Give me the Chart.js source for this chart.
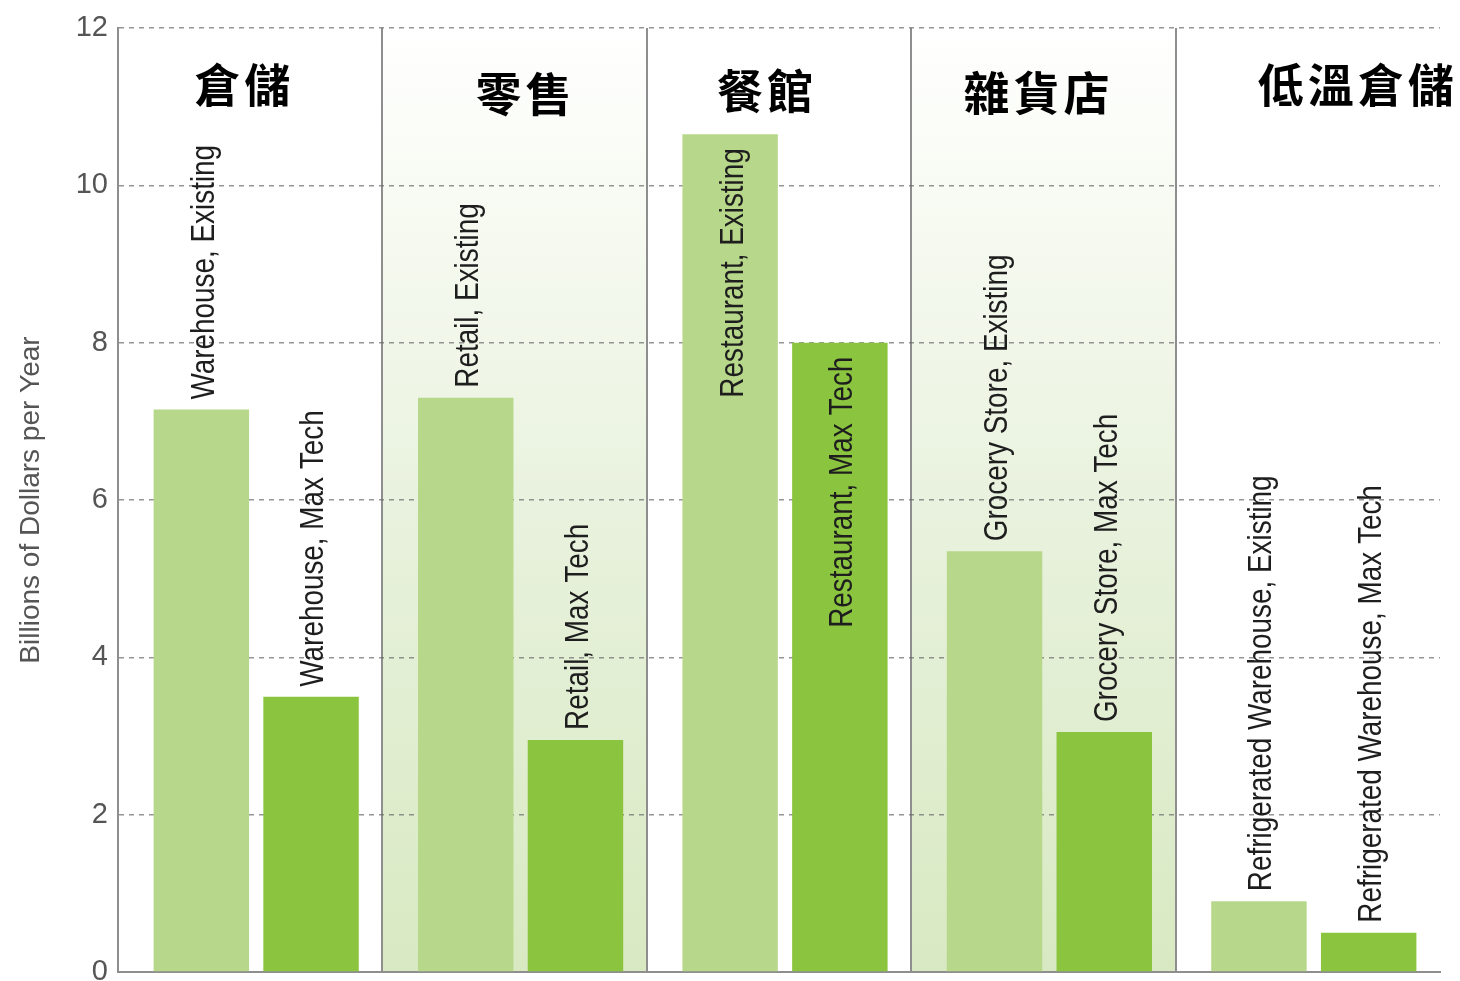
<!DOCTYPE html>
<html>
<head>
<meta charset="utf-8">
<script src="https://cdn.jsdelivr.net/npm/chart.js@4"></script>
<style>
  html, body { margin: 0; padding: 0; background: #fff; }
  #wrap { width: 1460px; height: 981px; }
</style>
</head>
<body>
<div id="wrap"><canvas id="chart"></canvas></div>
<script>
// building types, one panel each
const categories = ['倉儲', '零售', '餐館', '雜貨店', '低溫倉儲'];
const existingLabels = ['Warehouse, Existing', 'Retail, Existing', 'Restaurant, Existing', 'Grocery Store, Existing', 'Refrigerated Warehouse, Existing'];
const maxTechLabels = ['Warehouse, Max Tech', 'Retail, Max Tech', 'Restaurant, Max Tech', 'Grocery Store, Max Tech', 'Refrigerated Warehouse, Max Tech'];
// billions of dollars per year
const existingValues = [7.15, 7.3, 10.65, 5.35, 0.9];
const maxTechValues = [3.5, 2.95, 8.0, 3.05, 0.5];
const yMin = 0, yMax = 12, yStep = 2;

// styling
const shadedPanels = [1, 3];
const titleShift = [-8, 9, -14, -7, 48];
const titleLift = [-5, 4, 1, 3, -5];
const titlePitch = 50;
const barShift = 6;
const sans = '"Liberation Sans", Arial, sans-serif';

const panelShading = {
  id: 'panelShading',
  beforeDraw(chart) {
    const { ctx, chartArea, scales: { x } } = chart;
    const half = (x.getPixelForValue(1) - x.getPixelForValue(0)) / 2;
    ctx.save();
    shadedPanels.forEach(i => {
      const cx = x.getPixelForValue(i);
      const g = ctx.createLinearGradient(0, chartArea.bottom, 0, chartArea.top);
      g.addColorStop(0, '#d8e9c2');
      g.addColorStop(0.5, '#e9f2de');
      g.addColorStop(0.9, '#fbfdf8');
      g.addColorStop(1, '#ffffff');
      ctx.fillStyle = g;
      ctx.fillRect(cx - half, chartArea.top, half * 2, chartArea.bottom - chartArea.top);
    });
    ctx.restore();
  }
};

// nudge each bar pair a little right of its panel centre
const barNudge = {
  id: 'barNudge',
  beforeDatasetsDraw(chart) {
    chart.ctx.save();
    chart.ctx.translate(barShift, 0);
  },
  afterDatasetsDraw(chart) {
    chart.ctx.restore();
  }
};

const barLabels = {
  id: 'barLabels',
  afterDatasetsDraw(chart) {
    const { ctx, chartArea } = chart;
    const texts = [existingLabels, maxTechLabels];
    const squeeze = 0.82;
    ctx.save();
    ctx.font = '34px ' + sans;
    ctx.fillStyle = '#1e1e1e';
    ctx.textBaseline = 'middle';
    chart.data.datasets.forEach((ds, d) => {
      chart.getDatasetMeta(d).data.forEach((bar, i) => {
        const text = texts[d][i];
        const w = ctx.measureText(text).width * squeeze;
        const inside = bar.y - 10 - w < chartArea.top + 100;
        ctx.save();
        ctx.translate(bar.x + barShift + 3, inside ? bar.y + 14 : bar.y - 10);
        ctx.rotate(-Math.PI / 2);
        ctx.scale(squeeze, 1);
        ctx.textAlign = inside ? 'right' : 'left';
        ctx.fillText(text, 0, 0);
        ctx.restore();
      });
    });
    ctx.restore();
  }
};

const panelTitles = {
  id: 'panelTitles',
  afterDraw(chart) {
    const { ctx, chartArea, scales: { x } } = chart;
    ctx.save();
    ctx.font = 'bold 46px "Noto Sans CJK TC", sans-serif';
    ctx.fillStyle = '#000';
    ctx.textAlign = 'center';
    ctx.textBaseline = 'middle';
    categories.forEach((c, i) => {
      const chars = c.split('');
      const cx = x.getPixelForValue(i) + titleShift[i];
      const cy = chartArea.top + 62 + titleLift[i];
      chars.forEach((ch, k) => {
        ctx.fillText(ch, cx + (k - (chars.length - 1) / 2) * titlePitch, cy);
      });
    });
    ctx.restore();
  }
};

new Chart(document.getElementById('chart'), {
  type: 'bar',
  data: {
    labels: categories,
    datasets: [
      { label: 'Existing', data: existingValues, backgroundColor: '#b7d88a', borderWidth: 0 },
      { label: 'Max Tech', data: maxTechValues, backgroundColor: '#8bc53f', borderWidth: 0 }
    ]
  },
  options: {
    responsive: true,
    maintainAspectRatio: false,
    animation: false,
    categoryPercentage: 0.83,
    barPercentage: 0.87,
    layout: { padding: { top: 28, right: 20, bottom: 9, left: 0 } },
    plugins: {
      legend: { display: false },
      tooltip: { enabled: false }
    },
    scales: {
      x: {
        afterFit(scale) { scale.height = 0; },
        ticks: { display: false },
        grid: {
          offset: true,
          drawTicks: false,
          lineWidth: 2,
          color: c => (c.type === 'tick' ? '#8e8e8e' : 'rgba(0,0,0,0)')
        },
        border: { color: '#8e8e8e', width: 2 }
      },
      y: {
        min: yMin,
        max: yMax,
        z: 1,
        afterFit(scale) {
          scale.width = 118;
          scale.paddingTop = 0;
          scale.paddingBottom = 0;
        },
        ticks: {
          stepSize: yStep,
          padding: 10,
          color: '#555',
          font: { family: sans, size: 29 }
        },
        grid: {
          drawTicks: false,
          lineWidth: 1.5,
          color: c => (c.tick && c.tick.value === 0 ? 'rgba(0,0,0,0)' : 'rgba(105,105,105,0.7)')
        },
        border: { color: '#8e8e8e', width: 2, dash: [5, 5] },
        title: {
          display: true,
          text: 'Billions of Dollars per Year',
          color: '#555',
          font: { family: sans, size: 28 },
          padding: { top: 14, bottom: 0 }
        }
      }
    }
  },
  plugins: [panelShading, barNudge, barLabels, panelTitles]
});
</script>
</body>
</html>
